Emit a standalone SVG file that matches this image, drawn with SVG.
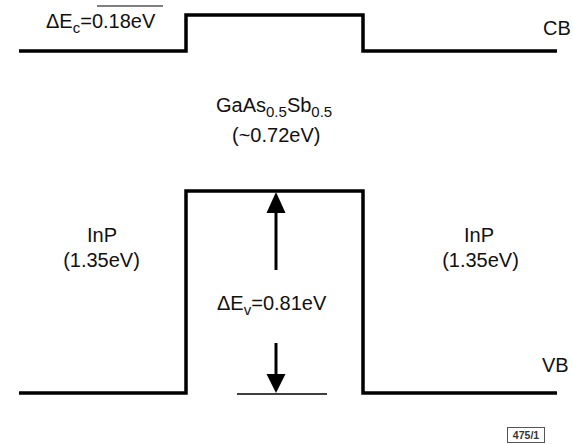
<svg xmlns="http://www.w3.org/2000/svg" width="573" height="444" viewBox="0 0 573 444">
<defs>
<style>
.band{fill:none;stroke:#000;stroke-width:3.5;stroke-linejoin:miter;stroke-linecap:butt}
.t{font-family:"Liberation Sans",Arial,sans-serif;font-size:20px;fill:#111}
.s{font-size:15px}
.thin{stroke:#000;stroke-width:1.5;fill:none}
.arr{stroke:#000;stroke-width:3;fill:none}
</style>
</defs>
<rect width="573" height="444" fill="#fff"/>
<g id="connectors">
<polyline class="band" points="19,51 186,51 186,15 363,15 363,51 557,51"/>
<polyline class="band" points="19,393 186,393 186,191 363,191 363,393 557,393"/>
<line class="arr" x1="276" y1="270" x2="276" y2="212"/>
<polygon points="266.5,213 285.5,213 276,192" fill="#000"/>
<line class="arr" x1="276" y1="343" x2="276" y2="375"/>
<polygon points="266.5,374 285.5,374 276,393" fill="#000"/>
<line class="thin" x1="237" y1="394" x2="327" y2="394"/>
<line class="thin" x1="97" y1="6" x2="163" y2="6" style="stroke-width:1.2"/>
</g>
<g id="label-cb"><text class="t" x="543" y="35">CB</text></g>
<g id="label-vb"><text class="t" x="542" y="372">VB</text></g>
<g id="label-dec"><text class="t" x="46" y="28">ΔE<tspan class="s" dy="5">c</tspan><tspan dy="-5">=0.18eV</tspan></text></g>
<g id="label-gaas">
<text class="t" x="216" y="112">GaAs<tspan class="s" dy="5">0.5</tspan><tspan dy="-5">Sb</tspan><tspan class="s" dy="5">0.5</tspan></text>
<text class="t" x="232" y="142">(~0.72eV)</text>
</g>
<g id="label-inp-left">
<text class="t" x="102" y="242" text-anchor="middle">InP</text>
<text class="t" x="101.5" y="267" text-anchor="middle">(1.35eV)</text>
</g>
<g id="label-inp-right">
<text class="t" x="479" y="242" text-anchor="middle">InP</text>
<text class="t" x="480.5" y="267" text-anchor="middle">(1.35eV)</text>
</g>
<g id="label-dev"><text class="t" x="217" y="310">ΔE<tspan class="s" dy="5">v</tspan><tspan dy="-5">=0.81eV</tspan></text></g>
<g id="tag">
<rect x="507.5" y="427.5" width="37" height="15" fill="none" stroke="#555" stroke-width="1"/>
<text x="526" y="439" text-anchor="middle" style="font-family:'Liberation Sans',Arial,sans-serif;font-size:10.5px;font-weight:bold;fill:#333">475/1</text>
</g>
</svg>
